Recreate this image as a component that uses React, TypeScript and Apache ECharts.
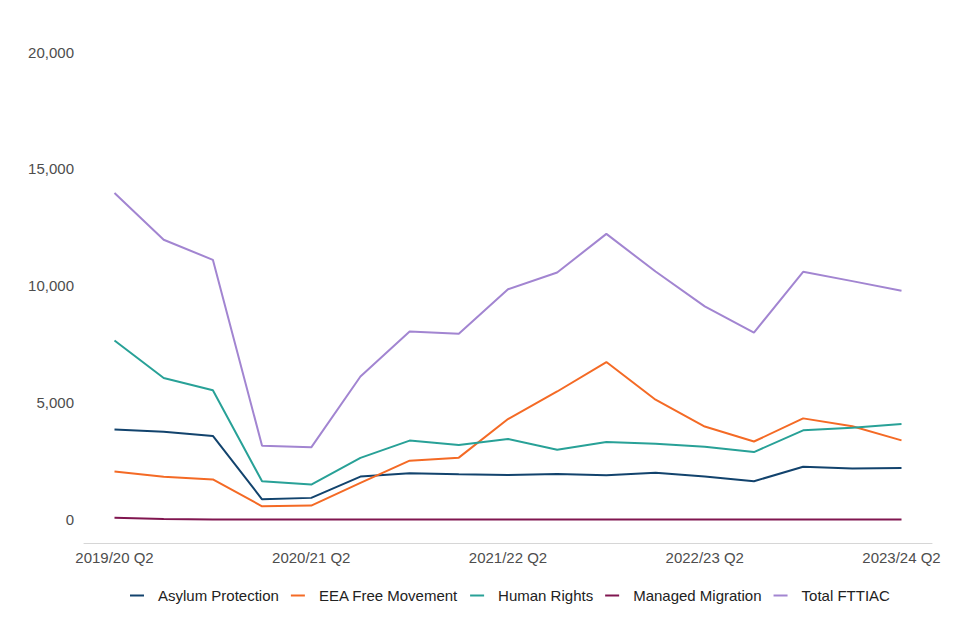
import React, { useEffect, useRef } from "react";
import * as echarts from "echarts";

const categories = [
  "2019/20 Q2", "2019/20 Q3", "2019/20 Q4", "2020/21 Q1",
  "2020/21 Q2", "2020/21 Q3", "2020/21 Q4", "2021/22 Q1",
  "2021/22 Q2", "2021/22 Q3", "2021/22 Q4", "2022/23 Q1",
  "2022/23 Q2", "2022/23 Q3", "2022/23 Q4", "2023/24 Q1",
  "2023/24 Q2",
];

const asylumProtection = [3850, 3760, 3580, 870, 930, 1840, 1980, 1940, 1910, 1950, 1900, 2000, 1840, 1640, 2260, 2190, 2210];
const eeaFreeMovement = [2060, 1830, 1720, 570, 600, 1570, 2520, 2650, 4300, 5480, 6740, 5130, 3980, 3340, 4330, 3990, 3390];
const humanRights = [7660, 6060, 5530, 1640, 1500, 2640, 3380, 3190, 3450, 2990, 3320, 3240, 3120, 2890, 3820, 3930, 4090];
const managedMigration = [85, 30, 10, 5, 5, 8, 5, 5, 5, 5, 5, 5, 5, 5, 5, 5, 5];
const totalFTTIAC = [13970, 11970, 11110, 3160, 3090, 6120, 8050, 7950, 9850, 10570, 12220, 10610, 9120, 8000, 10600, 10200, 9790];

const xTickIndices = [0, 4, 8, 12, 16];
const yTickValues = [0, 5000, 10000, 15000, 20000];

const seriesDefs = [
  { name: "Asylum Protection", data: asylumProtection, color: "#12436D" },
  { name: "EEA Free Movement", data: eeaFreeMovement, color: "#F46A25" },
  { name: "Human Rights", data: humanRights, color: "#28A197" },
  { name: "Managed Migration", data: managedMigration, color: "#801650" },
  { name: "Total FTTIAC", data: totalFTTIAC, color: "#A285D1" },
];

const FONT = "'Liberation Sans', Arial, Helvetica, sans-serif";

export default function App() {
  const ref = useRef<HTMLDivElement>(null);
  useEffect(() => {
    if (!ref.current) return;
    const chart = echarts.init(ref.current, null, { renderer: "svg" });
    chart.setOption({
      animation: false,
      backgroundColor: "#ffffff",
      grid: { left: 84, right: 28, top: 52, bottom: 97, containLabel: false },
      legend: {
        top: 583,
        left: 125,
        icon: "rect",
        itemWidth: 14,
        itemHeight: 2,
        itemGap: 12,
        textStyle: { fontFamily: FONT, fontSize: 15, color: "#222222", padding: [0, 0, 0, 9] },
        data: seriesDefs.map((s) => s.name),
      },
      xAxis: {
        type: "value",
        min: -0.62,
        max: categories.length - 1 + 0.62,
        axisLine: { show: true, onZero: false, lineStyle: { color: "#d6d6d6", width: 1 } },
        axisTick: { show: false },
        splitLine: { show: false },
        axisLabel: {
          customValues: xTickIndices,
          formatter: (v: number) => categories[Math.round(v)] ?? "",
          fontFamily: FONT,
          fontSize: 15,
          color: "#4d4d4d",
          margin: 7,
        },
      },
      yAxis: {
        type: "value",
        min: -1000,
        max: 20000,
        axisLine: { show: false },
        axisTick: { show: false },
        splitLine: { show: false },
        axisLabel: {
          customValues: yTickValues,
          formatter: (v: number) => v.toLocaleString("en-GB"),
          fontFamily: FONT,
          fontSize: 15,
          color: "#4d4d4d",
          margin: 10,
        },
      },
      series: seriesDefs.map((s) => ({
        name: s.name,
        type: "line",
        data: s.data.map((v, i) => [i, v]),
        symbol: "none",
        lineStyle: { color: s.color, width: 2 },
        itemStyle: { color: s.color },
      })),
    });
    return () => chart.dispose();
  }, []);
  return (
    <div
      ref={ref}
      style={{ position: "fixed", left: 0, top: 0, width: 960, height: 640 }}
    />
  );
}
